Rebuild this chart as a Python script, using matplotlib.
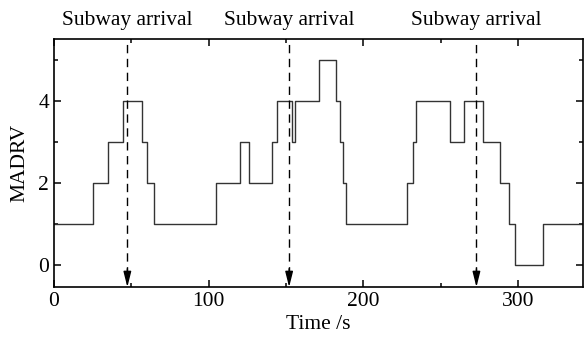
import numpy as np
import matplotlib.pyplot as plt
from matplotlib.ticker import MultipleLocator

plt.rcParams['font.family'] = ['Liberation Serif', 'DejaVu Serif']
plt.rcParams['font.size'] = 15.5

# step times (s) and MADRV level held from each time onward
times = [0, 25, 35, 45, 57, 60, 65, 105, 120, 126, 141, 144, 154, 156, 171,
         182, 185, 187, 189, 228, 232, 234, 256, 265, 277, 288, 294, 298, 316, 342]
madrv = [1, 2, 3, 4, 3, 2, 1, 2, 3, 2, 3, 4, 3, 4, 5,
         4, 3, 2, 1, 2, 3, 4, 3, 4, 3, 2, 1, 0, 1, 1]
arrivals = [47.5, 152, 273]
arrival_label = 'Subway arrival'

fig = plt.figure(figsize=(5.85, 3.37), dpi=100)
ax = fig.add_axes([0.092, 0.148, 0.905, 0.735])

ax.step(times, madrv, where='post', color='#333333', lw=1.0)

ylo, yhi = -0.55, 5.5
for t in arrivals:
    ax.vlines(t, -0.25, yhi, colors='black', linestyles=(0, (6, 4)), lw=1.0)
    ax.annotate('', xy=(t, ylo), xytext=(t, -0.1),
                arrowprops=dict(arrowstyle='-|>,head_length=0.6,head_width=0.15',
                                color='black', lw=1.0, shrinkA=0, shrinkB=0))
    ax.text(t, 1.075, arrival_label, transform=ax.get_xaxis_transform(),
            ha='center', va='center')

ax.set_xlim(0, 342)
ax.set_ylim(ylo, yhi)
ax.xaxis.set_major_locator(MultipleLocator(100))
ax.xaxis.set_minor_locator(MultipleLocator(50))
ax.yaxis.set_major_locator(MultipleLocator(2))
ax.yaxis.set_minor_locator(MultipleLocator(1))
ax.tick_params(which='both', direction='in', top=True, right=True, width=1.1)
ax.tick_params(which='major', length=5)
ax.tick_params(which='minor', length=3)
for s in ax.spines.values():
    s.set_linewidth(1.2)
ax.set_xlabel('Time /s', labelpad=3)
ax.set_ylabel('MADRV', labelpad=6)

fig.savefig('out.png', dpi=100)
